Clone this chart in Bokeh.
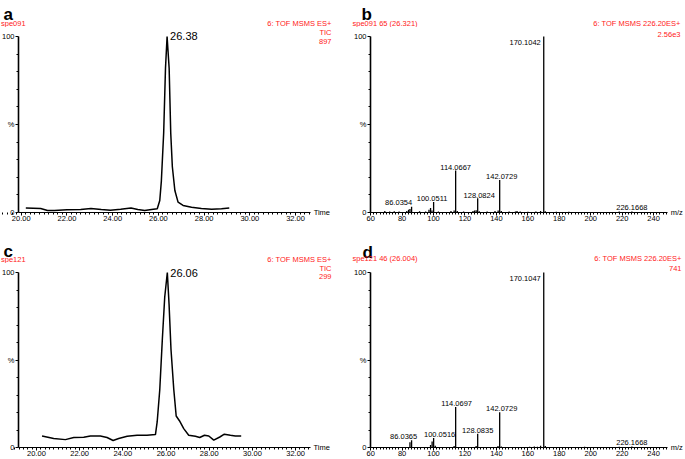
import numpy as np
from bokeh.plotting import figure
from bokeh.layouts import column, row
from bokeh.models import FixedTicker, Label, Range1d, PrintfTickFormatter
from bokeh.embed import file_html
from bokeh.resources import INLINE

# ---------------- data ----------------
# panel a: chromatogram spe091
time_a = [20.2, 20.85, 21.15, 21.45, 22.0, 22.6, 23.05, 23.5, 23.9, 24.35, 24.8, 25.1, 25.4,
          25.7, 25.95, 26.06, 26.13, 26.23, 26.31, 26.38, 26.47, 26.54, 26.61, 26.72, 26.86,
          27.08, 27.45, 27.88, 28.33, 28.76, 29.1]
int_a = [2.6, 2.3, 1.1, 1.1, 1.5, 1.7, 2.3, 1.7, 1.3, 1.9, 2.6, 1.7, 1.1,
         1.7, 2.1, 6.8, 18, 45, 82, 100, 82, 45, 26, 12.5, 5.9,
         4.0, 3.0, 2.3, 1.9, 2.1, 2.5]
peak_a = 26.38

# panel c: chromatogram spe121
time_c = [20.26, 20.8, 21.34, 21.73, 22.19, 22.5, 22.96, 23.27, 23.55, 23.81, 24.2, 24.66,
          25.12, 25.51, 25.59, 25.71, 25.83, 25.94, 26.06, 26.14, 26.23, 26.36, 26.47, 26.62,
          26.82, 27.05, 27.36, 27.56, 27.78, 27.98, 28.21, 28.49, 28.7, 28.98, 29.21, 29.48]
int_c = [6.6, 5.1, 4.5, 5.7, 5.9, 6.6, 6.6, 5.7, 4.0, 5.1, 6.4, 7.0,
         7.0, 7.4, 14.6, 33, 62, 86, 100, 82, 56, 33, 18, 15.3,
         10.8, 7.0, 6.4, 5.7, 7.0, 6.6, 4.2, 6.0, 7.6, 7.0, 6.6, 6.6]
peak_c = 26.06

# panel b: MS/MS spectrum spe091
mz_b = [69.0, 72.1, 75.0, 78.1, 83.0, 84.1, 85.0, 86.0354, 91.1, 95.0, 97.1, 98.1, 99.0,
        100.0511, 103.1, 111.1, 113.1, 114.0667, 115.1, 119.1, 125.1, 126.1, 127.1, 128.0824,
        129.1, 134.1, 139.1, 141.1, 142.0729, 143.1, 148.1, 152.1, 153.1, 155.1, 160.1, 165.1,
        168.1, 170.1042, 171.1, 178.1, 186.1, 194.1, 204.1, 218.1, 226.1668]
int_b = [0.8, 0.6, 0.7, 0.6, 0.8, 1.5, 2.0, 3.2, 0.7, 0.6, 1.5, 2.5, 1.2,
         5.9, 0.6, 0.8, 1.2, 23.8, 0.9, 0.5, 0.8, 1.2, 1.3, 8.1,
         0.7, 0.5, 0.9, 1.2, 18.5, 0.8, 0.5, 0.6, 0.8, 0.5, 0.4, 0.6,
         0.9, 100, 0.7, 0.4, 0.4, 0.3, 0.3, 0.5, 0.6]
labels_b = ["170.1042", "114.0667", "142.0729", "128.0824", "100.0511", "86.0354", "226.1668"]

# panel d: MS/MS spectrum spe121
mz_d = [85.0, 86.0365, 98.1, 99.1, 100.0516, 101.1, 113.1, 114.0697, 127.1, 128.0835, 141.0,
        142.0729, 143.1, 161.1, 164.1, 166.1, 168.1, 170.1047, 171.1, 196.1, 218.1, 226.1668]
int_d = [3.0, 4.2, 1.5, 3.5, 5.5, 1.0, 0.8, 23.1, 0.8, 7.9, 0.8,
         20.2, 0.6, 0.5, 0.6, 0.5, 1.0, 100, 0.8, 0.5, 0.4, 0.6]
labels_d = ["170.1047", "114.0697", "142.0729", "128.0835", "100.0516", "86.0365", "226.1668"]

# header texts
hdr_a = ("a", "spe091", ["6: TOF MSMS ES+", "TIC", "897"])
hdr_b = ("b", "spe091 65 (26.321)", ["6: TOF MSMS 226.20ES+", "2.56e3"])
hdr_c = ("c", "spe121", ["6: TOF MSMS ES+", "TIC", "299"])
hdr_d = ("d", "spe121 46 (26.004)", ["6: TOF MSMS 226.20ES+", "741"])

FONT = "Liberation Sans"
RED = "#ff1a1a"
FS = "7.5px"


def header_fig(W, H):
    h = figure(output_backend="svg", toolbar_location=None, width=W, height=H,
               x_range=Range1d(0, W), y_range=Range1d(H, 0),
               x_axis_location=None, y_axis_location=None,
               min_border_left=0, min_border_right=0, min_border_top=0, min_border_bottom=0)
    h.outline_line_color = None
    h.grid.visible = False
    return h


def txt(p, x, y, text, **kw):
    p.add_layout(Label(x=x, y=y, text=text, text_font=FONT, **kw))


def plot_fig(W, H, bl, x0, ppu, axis_end, y100, y0):
    """Frame covers the whole figure; axes are drawn at fixed data locations."""
    ppy = (y0 - y100) / 100.0
    x_start = x0 - bl / ppu
    x_end = x_start + W / ppu
    y_start = -(H - y0) / ppy
    y_end = 100.0 + y100 / ppy
    p = figure(output_backend="svg", toolbar_location=None, width=W, height=H,
               min_border_left=0, min_border_right=0, min_border_top=0, min_border_bottom=0,
               x_range=Range1d(x_start, x_end), y_range=Range1d(y_start, y_end))
    p.outline_line_color = None
    p.grid.visible = False
    for ax in (p.xaxis[0], p.yaxis[0]):
        ax.axis_line_color = "black"
        ax.major_tick_line_color = "black"
        ax.minor_tick_line_color = "black"
        ax.major_tick_in = 0
        ax.minor_tick_in = 0
        ax.major_tick_out = 3
        ax.minor_tick_out = 2
        ax.major_label_text_font = FONT
        ax.major_label_text_font_size = FS
        ax.major_label_text_color = "black"
        ax.major_label_standoff = 1
    p.xaxis[0].major_label_standoff = 0
    p.yaxis[0].axis_line_width = 1.6
    p.xaxis[0].axis_line_width = 1.2
    p.xaxis[0].fixed_location = 0
    p.yaxis[0].fixed_location = x0
    p.yaxis[0].bounds = (0, 100)
    p.xaxis[0].bounds = (x0, axis_end)
    p.yaxis[0].ticker = FixedTicker(ticks=[0, 50, 100], minor_ticks=list(range(10, 100, 10)))
    p.yaxis[0].major_label_overrides = {0: "0", 50: "%", 100: "100"}

    def to_data(fx, fy):
        return (x_start + fx / ppu, (y0 - fy) / ppy)
    return p, to_data


def add_headers(h, p, to_data, hdr, letter_xy, left_xy, right_x, right_ys, Hh, xlabel, xlabel_x, y0):
    letter, left, rights = hdr
    txt(h, letter_xy[0], letter_xy[1], letter, text_font_size="17px",
        text_font_style="bold", text_color="black", text_baseline="alphabetic")
    txt(h, left_xy[0], left_xy[1], left, text_font_size=FS,
        text_color=RED, text_baseline="middle", text_align="left")
    for t, yy in zip(rights, right_ys):
        if yy + 4 <= Hh:
            txt(h, right_x, yy, t, text_font_size=FS, text_color=RED,
                text_baseline="middle", text_align="right")
        else:
            x, y = to_data(right_x, max(yy - Hh, 4.5))
            txt(p, x, y, t, text_font_size=FS, text_color=RED,
                text_baseline="middle", text_align="right")
    x, y = to_data(xlabel_x, y0)
    txt(p, x, y, xlabel, text_font_size=FS, text_color="black",
        text_baseline="middle", text_align="left")


def chrom_panel(t, y, peak, x0, ppu, axis_end, hdr, W, Htot, Hh, y100, y0, right_ys,
                letter_y, left_y, lab_dy):
    bl = 18
    h = header_fig(W, Hh)
    p, to_data = plot_fig(W, Htot - Hh, bl, x0, ppu, axis_end, y100 - Hh, y0 - Hh)
    p.xaxis[0].ticker = FixedTicker(ticks=list(range(20, 33, 2)),
                                    minor_ticks=list(np.round(np.arange(19.0, 32.7, 0.2), 2)))
    p.xaxis[0].formatter = PrintfTickFormatter(format="%.2f")
    p.line(t, y, line_color="black", line_width=1.5)
    ip = int(np.argmax(y))
    txt(p, t[ip], y[ip], f"{peak:.2f}", text_font_size="11px", text_color="black",
        text_baseline="alphabetic", text_align="left", x_offset=3, y_offset=lab_dy)
    axis_end_px = bl + (axis_end - x0) * ppu
    add_headers(h, p, to_data, hdr, (3, letter_y), (0.5, left_y), 331, right_ys, Hh,
                "Time", axis_end_px + 3, y0 - Hh)
    return column(h, p)


def spec_panel(mz, inten, labels, lab_style, hdr, W, Htot, Hh, y100, y0, right_ys,
               letter_xy, left_y, right_x):
    bl = 28
    x0, ppu, axis_end = 59.9, 1.572, 249.0
    h = header_fig(W, Hh)
    p, to_data = plot_fig(W, Htot - Hh, bl, x0, ppu, axis_end, y100 - Hh, y0 - Hh)
    p.xaxis[0].ticker = FixedTicker(ticks=list(range(60, 241, 20)),
                                    minor_ticks=list(range(60, 250, 2)))
    p.segment(x0=mz, y0=[0] * len(mz), x1=mz, y1=inten, line_color="black", line_width=1.3)
    for lab in labels:
        m = float(lab)
        i = int(np.argmin(np.abs(np.array(mz) - m)))
        dx, dy, align, base = lab_style.get(lab[:3], (0, 1, "center", "bottom"))
        txt(p, mz[i], inten[i], lab, text_font_size=FS, text_color="black",
            text_align=align, text_baseline=base, x_offset=dx, y_offset=dy)
    axis_end_px = bl + (axis_end - x0) * ppu
    add_headers(h, p, to_data, hdr, letter_xy, (10, left_y), right_x, right_ys, Hh,
                "m/z", axis_end_px + 3, y0 - Hh)
    return column(h, p)


style_b = {"170": (-3, -3, "right", "top"), "86.": (-13, 2, "center", "bottom"),
           "100": (-1.5, 1, "center", "bottom"), "128": (1.5, 0, "center", "bottom"),
           "142": (2, 1, "center", "bottom"), "226": (0, 1, "center", "bottom")}
style_d = {"170": (-3, -3, "right", "top"), "86.": (-8, 1, "center", "bottom"),
           "100": (6, 1, "center", "bottom"), "142": (2, 1, "center", "bottom"),
           "114": (1, 1, "center", "bottom"), "226": (0, 1, "center", "bottom")}

# top row: height 229, header 27; y=100 at 36, y=0 at 212
pa = chrom_panel(time_a, int_a, peak_a, 19.88, 22.86, 32.66, hdr_a, 342, 229, 27, 36, 212,
                 [23, 32, 41], 13.5, 23, 1)
pb = spec_panel(mz_b, int_b, labels_b, style_b, hdr_b, 343, 229, 27, 36, 212,
                [23, 34], (19, 13.5), 23, 338)
# bottom row: height 230, header 34; y=100 at 272-229, y=0 at 447-229
pc = chrom_panel(time_c, int_c, peak_c, 19.17, 21.6, 32.69, hdr_c, 342, 230, 34, 43, 218,
                 [30, 39, 47], 22, 30, 0)
pd = spec_panel(mz_d, int_d, labels_d, style_d, hdr_d, 343, 230, 34, 43, 218,
                [29, 38.5], (20, 22.7), 29, 339)

layout = column(row(pa, pb), row(pc, pd))
open("out.html", "w").write(file_html(layout, INLINE))
